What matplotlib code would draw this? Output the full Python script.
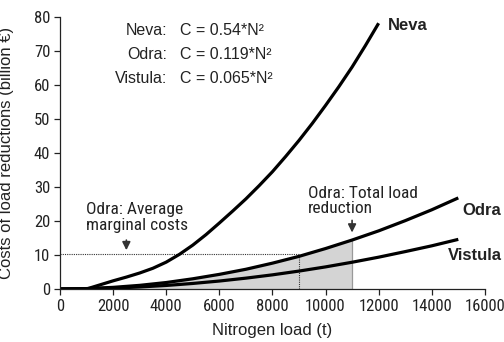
import matplotlib
matplotlib.use("Agg")
import matplotlib.pyplot as plt

plt.rcParams["font.family"] = ["Liberation Sans", "DejaVu Sans"]
NARROW = ["Roboto Condensed", "Liberation Sans"]

# values (t, billion EUR)
neva_n = [0, 1000, 1500, 2000, 2500, 3000, 3500, 4000, 4500, 5000, 5500, 6000, 6500, 7000, 7500,
          8000, 8500, 9000, 9500, 10000, 10500, 11000, 11500, 12000]
neva_c = [0, 0, 1.2, 2.4, 3.5, 4.7, 6.1, 7.9, 10.2, 12.9, 16.0, 19.4, 22.9, 26.5, 30.4,
          34.5, 39.0, 43.7, 48.7, 54.0, 59.5, 65.3, 71.6, 78.2]

odra_n = [0, 1000, 2000, 3000, 4000, 5000, 6000, 7000, 8000, 9000, 10000, 11000, 12000, 13000, 14000, 15000]
odra_c = [0, 0.12, 0.48, 1.07, 1.9, 3.0, 4.3, 5.8, 7.6, 9.6, 11.9, 14.4, 17.1, 20.1, 23.3, 26.8]

vist_n = [0, 1000, 2000, 3000, 4000, 5000, 6000, 7000, 8000, 9000, 10000, 11000, 12000, 13000, 14000, 15000]
vist_c = [0, 0.07, 0.26, 0.59, 1.04, 1.63, 2.34, 3.19, 4.16, 5.27, 6.5, 7.87, 9.36, 11.0, 12.7, 14.6]

equations = [("Neva:", "C = 0.54*N²"), ("Odra:", "C = 0.119*N²"), ("Vistula:", "C = 0.065*N²")]
avg_cost = 10.3
avg_load = 9000
total_load = 11000

fig = plt.figure(figsize=(5.04, 3.42), dpi=100)
ax = fig.add_axes([0.119, 0.155, 0.843, 0.795])

# shaded total reduction under the Odra curve
sel_n = [n for n in odra_n if n <= total_load]
sel_c = odra_c[:len(sel_n)]
ax.fill_between(sel_n, 0, sel_c, color="#d4d4d4", lw=0)
ax.plot([total_load, total_load], [0, sel_c[-1]], color="#999999", lw=0.9)

ax.plot([0, avg_load], [avg_cost, avg_cost], color="#333333", lw=0.8, ls=(0, (1, 1)))
ax.plot([avg_load, avg_load], [0, avg_cost], color="#333333", lw=0.8, ls=(0, (1, 1)))

for n, c in [(neva_n, neva_c), (odra_n, odra_c), (vist_n, vist_c)]:
    ax.plot(n, c, color="black", lw=2.3, solid_capstyle="butt", solid_joinstyle="round")

ax.set_xlim(0, 16000)
ax.set_ylim(0, 80)
ax.set_xticks(range(0, 16001, 2000))
ax.set_yticks(range(0, 81, 10))
for s in ["top", "right"]:
    ax.spines[s].set_visible(False)
for s in ["left", "bottom"]:
    ax.spines[s].set_linewidth(0.9)
    ax.spines[s].set_color("#222222")
ax.tick_params(direction="out", length=4, width=0.9, color="#222222", pad=3)
for lab in ax.get_xticklabels() + ax.get_yticklabels():
    lab.set_fontfamily(NARROW)
    lab.set_fontsize(12)
    lab.set_color("#222222")

ax.set_xlabel("Nitrogen load (t)", fontsize=12, color="#222222")
ax.set_ylabel("Costs of load reductions (billion €)", fontsize=12, color="#222222")
ax.xaxis.set_label_coords(0.5, -0.125)
ax.yaxis.set_label_coords(-0.108, 0.5)

for i, (river, eq) in enumerate(equations):
    y = 76 - i * 7.1
    ax.text(4030, y, river, ha="right", va="center", fontsize=11.5, color="#222222")
    ax.text(4520, y, eq, ha="left", va="center", fontsize=11.5, color="#222222")

ax.text(12350, 77.6, "Neva", fontweight="bold", fontsize=12, va="center", color="#222222")
ax.text(15170, 23.2, "Odra", fontweight="bold", fontsize=12, va="center", color="#222222", clip_on=False)
ax.text(14600, 10.0, "Vistula", fontweight="bold", fontsize=12, va="center", color="#222222", clip_on=False)

ax.text(980, 21, "Odra: Average\nmarginal costs", family=NARROW, fontsize=12.5,
        va="center", ha="left", linespacing=1.05, color="#222222")
ax.annotate("", xy=(2500, 10.6), xytext=(2500, 15.2),
            arrowprops=dict(arrowstyle="-|>", color="#333333", lw=1.2, mutation_scale=12))
ax.text(9330, 25.9, "Odra: Total load\nreduction", family=NARROW, fontsize=12.5,
        va="center", ha="left", linespacing=1.05, color="#222222")
ax.annotate("", xy=(11000, 15.8), xytext=(11000, 21),
            arrowprops=dict(arrowstyle="-|>", color="#333333", lw=1.2, mutation_scale=12))

fig.savefig("out.png", dpi=100)
